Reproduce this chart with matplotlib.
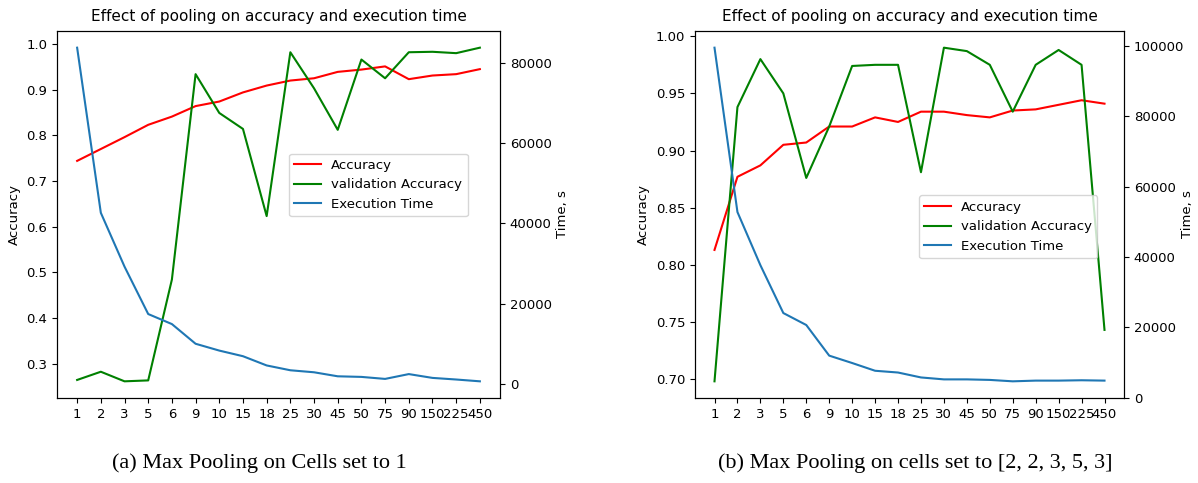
import numpy as np
import matplotlib.pyplot as plt

# pooling sizes shown on the x axis (categorical)
pool_sizes = ['1', '2', '3', '5', '6', '9', '10', '15', '18', '25', '30',
              '45', '50', '75', '90', '150', '225', '450']

# --- (a) max pooling on cells set to 1 ---
acc_a = [0.744, 0.770, 0.796, 0.823, 0.841, 0.864, 0.874, 0.894, 0.909, 0.920,
         0.925, 0.939, 0.944, 0.951, 0.923, 0.931, 0.934, 0.945]
val_acc_a = [0.264, 0.282, 0.261, 0.263, 0.484, 0.934, 0.849, 0.814, 0.623, 0.982,
             0.903, 0.812, 0.966, 0.925, 0.982, 0.983, 0.980, 0.992]
time_a = [83700, 42600, 29200, 17400, 14900, 10000, 8300, 6900, 4600, 3400,
          2900, 1900, 1750, 1250, 2450, 1500, 1100, 650]

# --- (b) max pooling on cells set to [2, 2, 3, 5, 3] ---
acc_b = [0.813, 0.877, 0.887, 0.905, 0.907, 0.921, 0.921, 0.929, 0.925, 0.934,
         0.934, 0.931, 0.929, 0.935, 0.936, 0.940, 0.944, 0.941]
val_acc_b = [0.698, 0.938, 0.980, 0.950, 0.876, 0.921, 0.974, 0.975, 0.975, 0.881,
             0.990, 0.987, 0.975, 0.934, 0.975, 0.988, 0.975, 0.743]
time_b = [99500, 52800, 37700, 24100, 20700, 12000, 9900, 7700, 7200, 5800,
          5250, 5250, 5100, 4700, 4900, 4900, 5000, 4900]

captions = ['(a) Max Pooling on Cells set to 1',
            '(b) Max Pooling on cells set to [2, 2, 3, 5, 3]']

fig = plt.figure(figsize=(11.98, 4.83), dpi=100)
W, H = 1198, 483

# axes boxes in pixels: left, top, right, bottom
boxes = [(57, 31, 500, 398), (695, 31, 1124, 398)]
legend_anchor = [(0.524, 0.666), (0.522, 0.552)]
time_labelpad = [3, -2.5]
panels = [(acc_a, val_acc_a, time_a), (acc_b, val_acc_b, time_b)]
x = np.arange(len(pool_sizes))

for i, (acc, val_acc, t) in enumerate(panels):
    l, tp, r, b = boxes[i]
    ax = fig.add_axes([l / W, 1 - b / H, (r - l) / W, (b - tp) / H])
    ax2 = ax.twinx()
    l1, = ax.plot(x, acc, color='red', label='Accuracy')
    l2, = ax.plot(x, val_acc, color='green', label='validation Accuracy')
    l3, = ax2.plot(x, t, color='#1f77b4', label='Execution Time')
    ax.set_xticks(x)
    ax.set_xticklabels(pool_sizes)
    ax.tick_params(labelsize=9.5)
    ax2.tick_params(labelsize=9.5)
    ax.set_ylabel('Accuracy', fontsize=9.5)
    ax2.set_ylabel('Time, s', fontsize=9.5, labelpad=time_labelpad[i])
    ax.set_title('Effect of pooling on accuracy and execution time',
                 fontsize=11, pad=7)
    ax2.legend(handles=[l1, l2, l3], loc='upper left',
               bbox_to_anchor=legend_anchor[i], borderaxespad=0, fontsize=9.5)

fig.text(259 / W, 1 - 463 / H, captions[0], ha='center', va='center',
         family='Liberation Serif', fontsize=16)
fig.text(915 / W, 1 - 463 / H, captions[1], ha='center', va='center',
         family='Liberation Serif', fontsize=16)

fig.savefig('out.png', dpi=100)
